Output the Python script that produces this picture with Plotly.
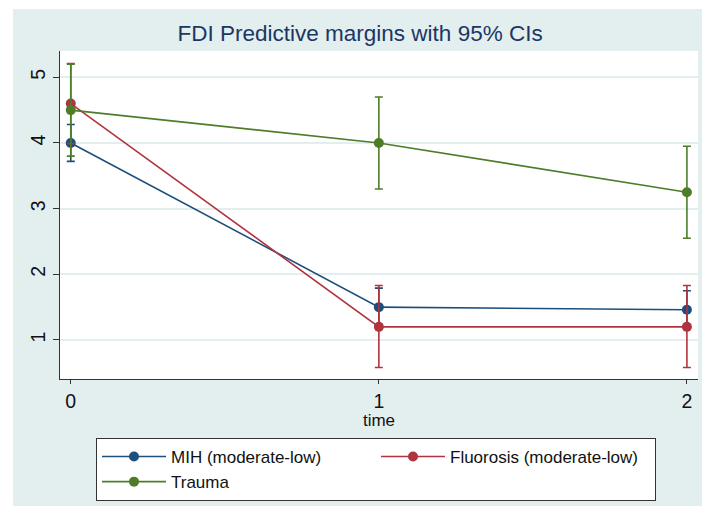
import plotly.graph_objects as go

time = [0, 1, 2]
series_names = ["MIH (moderate-low)", "Fluorosis (moderate-low)", "Trauma"]
mih = [4.0, 1.5, 1.46]
mih_lo = [3.72, 1.21, 1.17]
mih_hi = [4.28, 1.79, 1.75]
flu = [4.6, 1.2, 1.2]
flu_lo = [3.99, 0.58, 0.58]
flu_hi = [5.21, 1.83, 1.83]
tra = [4.5, 4.0, 3.25]
tra_lo = [3.80, 3.30, 2.55]
tra_hi = [5.20, 4.70, 3.95]
y_ticks = [1, 2, 3, 4, 5]
x_ticks = [0, 1, 2]

colors = ["#1B4F7D", "#B0343F", "#4E7D2A"]
BG = "#E3EEEF"
FONT = "Liberation Sans, Arial, sans-serif"

fig = go.Figure()
for name, y, lo, hi, c in zip(series_names, [mih, flu, tra], [mih_lo, flu_lo, tra_lo],
                              [mih_hi, flu_hi, tra_hi], colors):
    fig.add_trace(go.Scatter(
        x=time, y=y, name=name, mode="lines+markers",
        line=dict(color=c, width=1.6),
        marker=dict(color=c, size=10),
        error_y=dict(type="data", symmetric=False,
                     array=[h - v for h, v in zip(hi, y)],
                     arrayminus=[v - l for l, v in zip(lo, y)],
                     color=c, thickness=1.6, width=4),
    ))

W, H = 702, 506
ml, mr, mt, mb = 60, 4, 51, 127
pw, ph = W - ml - mr, H - mt - mb

def px_x(p):
    return (p - ml) / pw

def px_y(p):
    return (H - mb - p) / ph

fig.update_layout(
    width=W, height=H,
    margin=dict(l=ml, r=mr, t=mt, b=mb),
    paper_bgcolor=BG, plot_bgcolor="white",
    font=dict(family=FONT, color="#111111", size=17),
    title=dict(text="FDI Predictive margins with 95% CIs", x=0.513, xanchor="center",
               y=1 - 33 / H, yanchor="middle",
               font=dict(size=22.5, color="#1C3664", family=FONT)),
    xaxis=dict(range=[-0.035, 2.036], tickvals=x_ticks, showgrid=False, zeroline=False,
               showline=True, linecolor="#333333", linewidth=1.2,
               ticks="outside", ticklen=4, tickcolor="#333333",
               tickfont=dict(size=19.5), title=dict(text="time", standoff=0, font=dict(size=17))),
    yaxis=dict(range=[0.406, 5.40], tickvals=y_ticks, showgrid=True, gridcolor=BG, gridwidth=1.5,
               zeroline=False, showline=True, linecolor="#333333", linewidth=1.2,
               ticks="outside", ticklen=6, tickcolor="#333333", tickangle=-90,
               tickfont=dict(size=19.5)),
    showlegend=True,
    legend=dict(orientation="h", x=px_x(96), xanchor="left", y=px_y(438), yanchor="top",
                bgcolor="white", bordercolor="#333333", borderwidth=1,
                entrywidth=200, itemwidth=64, font=dict(size=17, family=FONT),
                tracegroupgap=0, traceorder="normal"),
    shapes=[
        dict(type="rect", xref="paper", yref="paper", x0=px_x(-5), x1=px_x(W + 5),
             y0=px_y(9), y1=px_y(-5), fillcolor="white", line=dict(width=0), layer="above"),
        dict(type="rect", xref="paper", yref="paper", x0=px_x(-5), x1=px_x(13),
             y0=px_y(H + 5), y1=px_y(-5), fillcolor="white", line=dict(width=0), layer="above"),
    ],
)

fig.write_html("out.html", config={"displayModeBar": False},
               post_script="document.body.style.margin='0';")
